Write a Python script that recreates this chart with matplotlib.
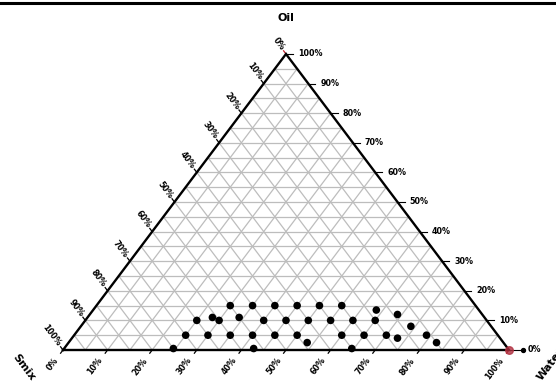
"""Ternary phase diagram: Oil / Smix / Water with the microemulsion points."""

import numpy as np
import matplotlib
matplotlib.use("Agg")
import matplotlib.pyplot as plt

# composition of each point, % (smix + water + oil = 100)
smix = [75, 70, 65, 65, 61, 60, 55, 60, 55, 50, 55, 57, 50, 45, 50, 45, 40, 45,
        44, 40, 35, 35, 30, 35, 35, 30, 30, 23, 25, 25, 19, 23, 18, 16, 15]
water = [24.5, 25, 25, 30, 28, 30, 30, 35, 34, 35, 40, 42.5, 40, 40, 45, 45, 45, 50,
         53.5, 50, 50, 55, 55, 60, 64.5, 60, 65, 63.5, 65, 70, 69, 73, 74, 79, 82.5]
oil = [0.5, 5, 10, 5, 11, 10, 15, 5, 11, 15, 5, 0.5, 10, 15, 5, 10, 15, 5,
       2.5, 10, 15, 10, 15, 5, 0.5, 10, 5, 13.5, 10, 5, 12, 4, 8, 5, 2.5]

tick_values = [0, 10, 20, 30, 40, 50, 60, 70, 80, 90, 100]
tick_labels = [f"{v}%" for v in tick_values]
axis_titles = ["Oil", "Smix", "Water"]

W, H = 556, 385
fig = plt.figure(figsize=(W / 100, H / 100), dpi=100)
ax = fig.add_axes([63 / W, 35 / H, 446 / W, 296 / H])
ax.set_xlim(0, 1)
ax.set_ylim(0, 1)
ax.axis("off")

AX_W, AX_H = 446, 296          # axes size in pixels
ANG = np.degrees(np.arctan2(AX_H, AX_W / 2))   # slope of the side edges


def tern(s, w, o):
    """(smix, water, oil) in % -> cartesian data coords of the triangle."""
    s, w, o = (np.asarray(v, dtype=float) / 100 for v in (s, w, o))
    tot = s + w + o
    return (w + o / 2) / tot, o / tot


def px(dx, dy):
    """pixel offset -> data offset"""
    return dx / AX_W, dy / AX_H


# grid every 5 %
grid_kw = dict(color="#bdbdbd", lw=0.9, zorder=1)
for k in range(1, 20):
    f = k / 20
    ax.plot([f / 2, 1 - f / 2], [f, f], **grid_kw)              # const oil
    ax.plot([f, f + (1 - f) / 2], [0, 1 - f], **grid_kw)        # const water
    ax.plot([1 - f, (1 - f) / 2], [0, 1 - f], **grid_kw)        # const smix

ax.plot([0, 1, 0.5, 0], [0, 0, 1, 0], color="black", lw=1.7, zorder=3,
        solid_joinstyle="miter", clip_on=False)

lab_kw = dict(fontsize=5.8, fontweight="heavy", color="black")
u = np.cos(np.radians(ANG)), np.sin(np.radians(ANG))

for v, lab in zip(tick_values, tick_labels):
    # right side: oil
    x0, y0 = tern(0, 100 - v, v)
    tick_len = 14 if v == 0 else 7
    ax.plot([x0 + px(1, 0)[0], x0 + px(tick_len, 0)[0]], [y0, y0],
            color="black", lw=0.8, clip_on=False)
    ax.text(x0 + px(tick_len + 5, 0)[0], y0, lab, ha="left", va="center", **lab_kw)

    # left side: smix, 0 at top
    x0, y0 = tern(v, 0, 100 - v)
    tx, ty = px(-4 * u[0], 4 * u[1])
    col = "#c0202a" if v == 0 else "black"
    ax.plot([x0, x0 + tx], [y0, y0 + ty], color=col, lw=0.9, clip_on=False)
    ax.text(x0 + px(-6 * u[0], 0)[0], y0 + px(0, 6 * u[1])[1], lab,
            rotation=-ANG, rotation_mode="anchor", ha="right", va="center", **lab_kw)

    # bottom side: water
    x0, y0 = tern(100 - v, v, 0)
    tx, ty = px(-4 * u[0], -4 * u[1])
    col = "#c0202a" if v == 100 else "black"
    ax.plot([x0, x0 + tx], [y0, y0 + ty], color=col, lw=0.9, clip_on=False)
    ax.text(x0 + px(-11 * u[0], 0)[0], y0 + px(0, -11 * u[1])[1], lab,
            rotation=ANG, rotation_mode="anchor", ha="right", va="center", **lab_kw)

# reddish corner marks
cx, cy = tern(0, 100, 0)
ax.plot([cx - px(10, 0)[0], cx], [cy, cy], color="#d04050", lw=1.2, alpha=0.7, clip_on=False)
ax.scatter([cx], [cy], s=30, color="#b03040", alpha=0.8, zorder=4, clip_on=False)
ax.scatter([cx + px(14, 0)[0]], [cy], s=8, color="black", zorder=4, clip_on=False)

# data points
px_, py_ = tern(smix, water, oil)
ax.scatter(px_, py_, s=30, color="black", edgecolors="none", zorder=5, clip_on=False)

# axis titles
title_kw = dict(fontsize=8, fontweight="heavy", color="black")
tx, ty = tern(0, 0, 100)
ax.annotate(axis_titles[0], (tx, ty), xytext=(0, 36), textcoords="offset pixels",
            ha="center", va="center", **title_kw)
tx, ty = tern(100, 0, 0)
ax.annotate(axis_titles[1], (tx, ty), xytext=(-39, -17), textcoords="offset pixels",
            ha="center", va="center", rotation=-ANG, **title_kw)
tx, ty = tern(0, 100, 0)
ax.annotate(axis_titles[2], (tx, ty), xytext=(42, -14), textcoords="offset pixels",
            ha="center", va="center", rotation=ANG, **title_kw)

# black rule across the top of the image
fig.add_artist(plt.Line2D([0, 1], [1 - 2.5 / H, 1 - 2.5 / H], color="black", lw=2.2))

fig.savefig("out.png", dpi=100)
